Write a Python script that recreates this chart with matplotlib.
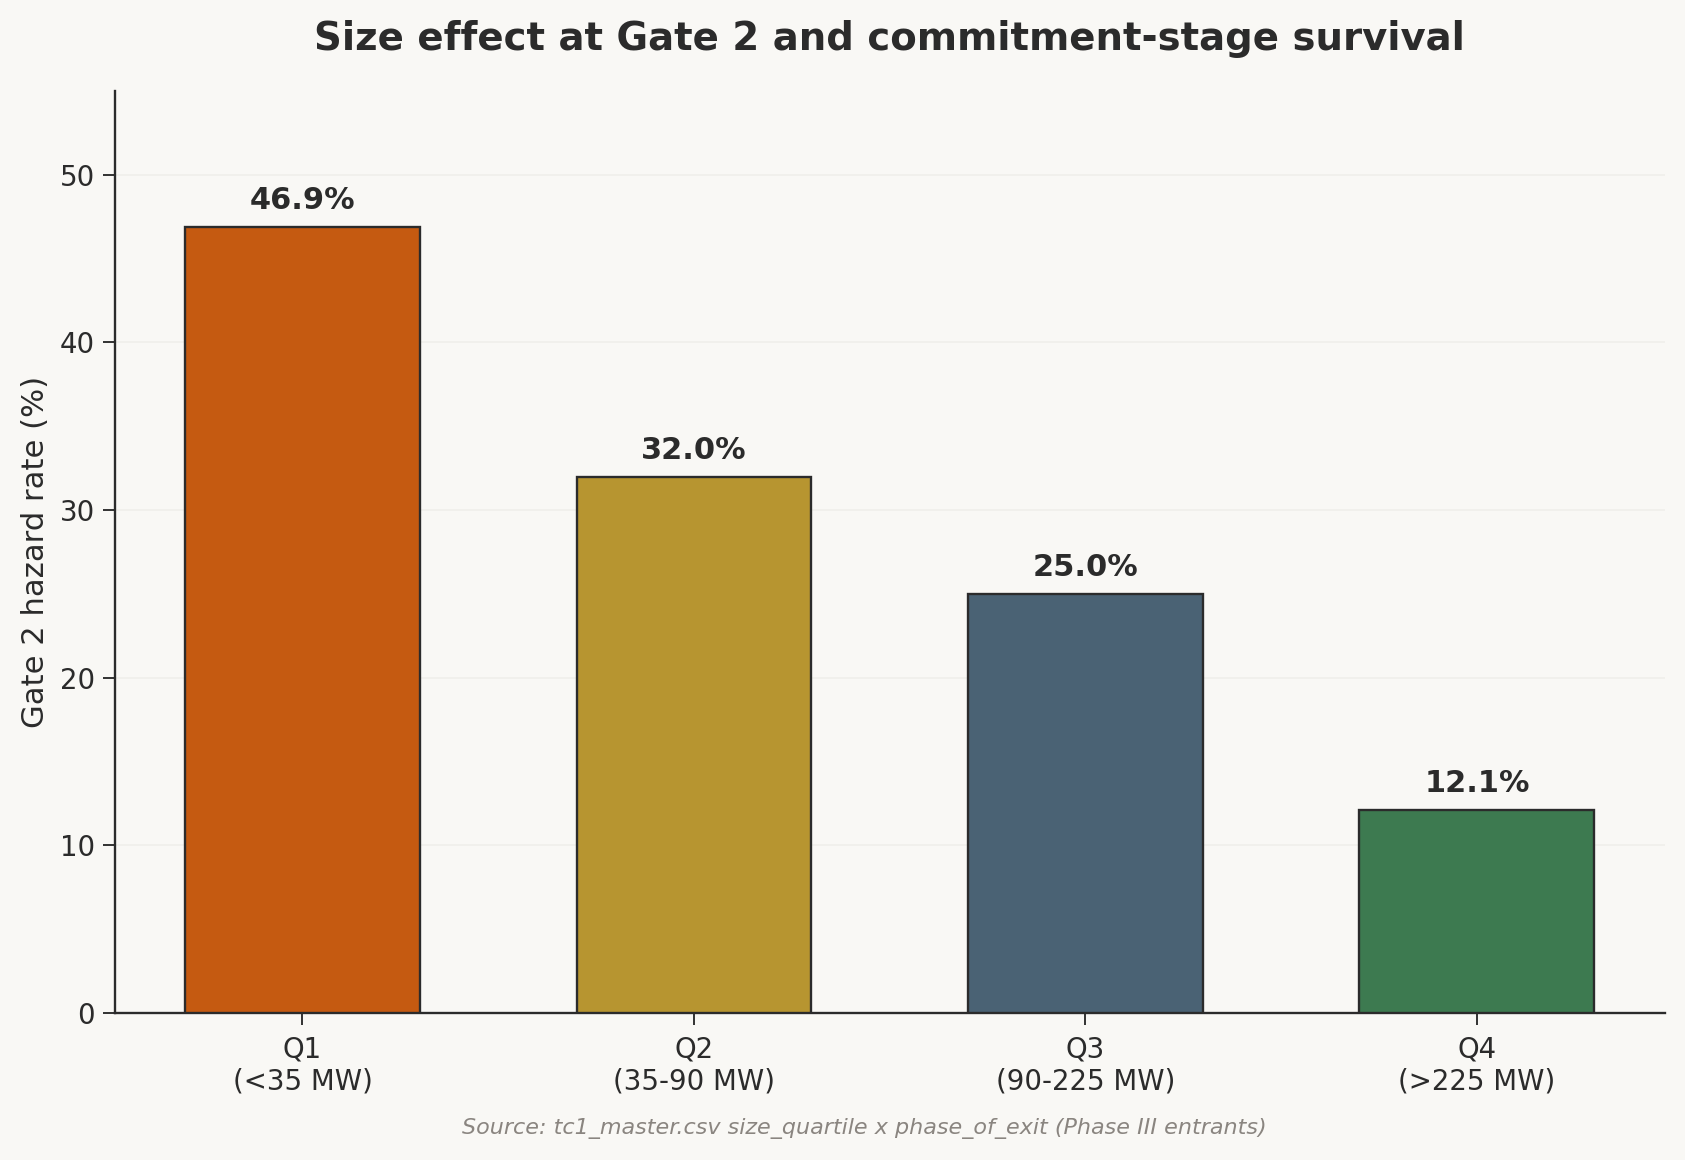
import numpy as np
import matplotlib
matplotlib.use("Agg")
import matplotlib.pyplot as plt

categories = ["Q1\n(<35 MW)", "Q2\n(35-90 MW)", "Q3\n(90-225 MW)", "Q4\n(>225 MW)"]
hazard = [46.9, 32.0, 25.0, 12.1]
colors = ["#c55a11", "#b79530", "#4a6274", "#3d7a50"]

bg = "#f9f8f5"
ink = "#2b2b2b"

plt.rcParams["font.family"] = "DejaVu Sans"
fig = plt.figure(figsize=(10, 1160 / 168.5), dpi=168.5, facecolor=bg)
ax = fig.add_axes([0.068, 0.1267, 0.92, 0.7949])
ax.set_facecolor(bg)

x = np.arange(len(categories))
bars = ax.bar(x, hazard, width=0.6, color=colors, edgecolor=ink, linewidth=1.0, zorder=3)
for b, v in zip(bars, hazard):
	ax.text(b.get_x() + b.get_width() / 2, v + 0.7, "%.1f%%" % v, ha="center", va="bottom",
		fontsize=13, fontweight="bold", color=ink)

ax.set_xlim(-0.48, 3.48)
ax.set_ylim(0, 55)
ax.set_yticks([0, 10, 20, 30, 40, 50])
ax.set_xticks(x)
ax.set_xticklabels(categories, fontsize=11.8, color=ink)
ax.tick_params(axis="y", labelsize=11.8, colors=ink, length=5)
ax.tick_params(axis="x", colors=ink, length=5, pad=4.5)
ax.grid(axis="y", color="#f1f0ec", linewidth=0.8, zorder=0)
ax.set_ylabel("Gate 2 hazard rate (%)", fontsize=13.1, color=ink)
for s in ["top", "right"]:
	ax.spines[s].set_visible(False)
for s in ["left", "bottom"]:
	ax.spines[s].set_color(ink)
	ax.spines[s].set_linewidth(1.0)

fig.text(0.528, 0.966, "Size effect at Gate 2 and commitment-stage survival", ha="center", va="center",
	fontsize=16.5, fontweight="bold", color=ink)
fig.text(0.513, 0.027, "Source: tc1_master.csv size_quartile x phase_of_exit (Phase III entrants)",
	ha="center", va="center", fontsize=9.5, style="italic", color="#8a8580")

fig.savefig("out.png", dpi=168.5, facecolor=bg)
